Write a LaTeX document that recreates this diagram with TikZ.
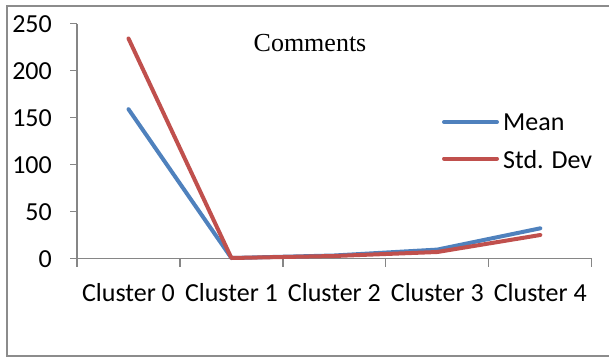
\documentclass[tikz,border=0pt]{standalone}
\usepackage{fontspec}
\setmainfont{Carlito}
\newfontfamily\serifcm{Liberation Serif}
\definecolor{meanblue}{HTML}{4F81BD}
\definecolor{stdred}{HTML}{C0504D}
\definecolor{framegray}{HTML}{8C8C8C}
\definecolor{axisgray}{HTML}{868686}
\begin{document}
\begin{tikzpicture}[x=1pt,y=-1pt,
  framebox/.style={draw=framegray,line width=2pt},
  axisline/.style={draw=axisgray,line width=1.3pt},
  series/.style={line width=4pt,line cap=round,line join=round},
  lbl/.style={inner sep=0pt,font=\fontsize{26}{30}\selectfont},
  ]
\useasboundingbox (0,0) rectangle (609,358);
% frame (right side is cut off)
\draw[framebox] (609,6) -- (7,6) -- (7,356) -- (609,356);
% axes
\coordinate (o) at (77,258.7);
\coordinate (ytop) at (77,24);
\coordinate (xend) at (591.7,258.7);
\draw[axisline] (ytop) -- (o) -- (xend);
\foreach \v/\n in {0/0,50/1,100/2,150/3,200/4,250/5}{
  \pgfmathsetmacro{\yy}{258.7-0.94*\v}
  \draw[axisline] (70,\yy) -- (77,\yy);
  \node[lbl,anchor=east] (yl\n) at (52,\yy) {\v};
}
\foreach \i in {0,...,5}{
  \pgfmathsetmacro{\xx}{77+102.94*\i}
  \draw[axisline] (\xx,258.7) -- (\xx,267);
}
\foreach \i in {0,...,4}{
  \pgfmathsetmacro{\xx}{128.5+102.94*\i}
  \node[lbl,anchor=base] (xl\i) at (\xx,301.5) {Cluster \i};
}
% data points
\coordinate (m0) at (128.5,109.2);
\coordinate (m1) at (231.4,258);
\coordinate (m2) at (334.4,255.5);
\coordinate (m3) at (437.3,249.6);
\coordinate (m4) at (540.3,228.3);
\coordinate (s0) at (128.5,38.5);
\coordinate (s1) at (231.4,258);
\coordinate (s2) at (334.4,256);
\coordinate (s3) at (437.3,252);
\coordinate (s4) at (540.3,235);
\draw[series,meanblue] (m0) -- (m1) -- (m2) -- (m3) -- (m4);
\draw[series,stdred] (s0) -- (s1) -- (s2) -- (s3) -- (s4);
% title
\node[inner sep=0pt,anchor=base,font=\serifcm\fontsize{26}{30}\selectfont] (title) at (310,51.5) {Comments};
% legend
\coordinate (lm1) at (444,122);
\coordinate (lm2) at (497,122);
\coordinate (ls1) at (444,158.5);
\coordinate (ls2) at (497,158.5);
\draw[series,meanblue] (lm1) -- (lm2);
\draw[series,stdred] (ls1) -- (ls2);
\node[lbl,anchor=base west] (lmean) at (503,131) {Mean};
\node[lbl,anchor=base west] (lstd) at (503,168) {Std. Dev};
\end{tikzpicture}
\end{document}
